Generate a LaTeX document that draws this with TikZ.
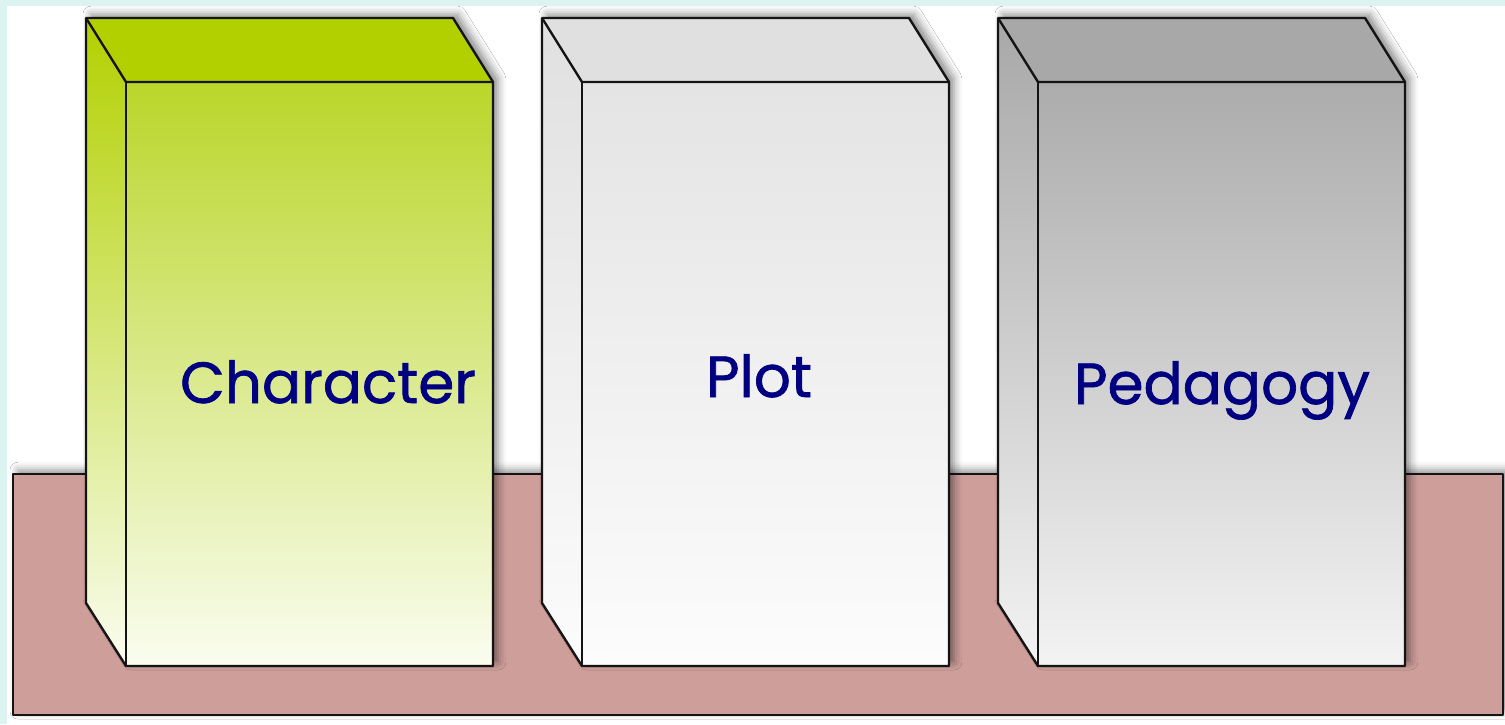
\documentclass[tikz,border=0pt]{standalone}
\usepackage{fontspec}
\setmainfont{Poppins}
\newfontfamily\labelfont[BoldFont=Poppins, BoldFeatures={FakeBold=1.2}]{Poppins}
\usetikzlibrary{shadows.blur}

\definecolor{framecyan}{RGB}{220,244,241}
\definecolor{shelfpink}{RGB}{206,158,154}
\definecolor{textnavy}{RGB}{0,0,128}
\definecolor{edgegray}{RGB}{20,20,20}
\definecolor{greentop}{RGB}{178,208,0}
\definecolor{greenfront}{RGB}{186,214,42}
\definecolor{greenlow}{RGB}{250,253,240}
\definecolor{silvertop}{RGB}{224,224,224}
\definecolor{silverfront}{RGB}{228,228,228}
\definecolor{silverlow}{RGB}{252,252,252}
\definecolor{darktop}{RGB}{168,168,168}
\definecolor{darkfront}{RGB}{172,172,172}
\definecolor{darklow}{RGB}{243,243,243}

\tikzset{
  blockedge/.style={draw=edgegray, line width=1.35pt, line join=round},
  dropshadow/.style={blur shadow={shadow xshift=2.8pt, shadow yshift=2.2pt,
      shadow blur radius=4.5pt, shadow opacity=45}},
  blocklabel/.style={font=\labelfont\bfseries\fontsize{33}{38}\selectfont,
      text=textnavy, anchor=base}
}

\begin{document}
\begin{tikzpicture}[x=0.02cm, y=-0.02cm]
  \useasboundingbox (0,0) rectangle (1505,724);
  \fill[framecyan] (0,0) rectangle (1505,724);
  \fill[white] (7,6) rectangle (1505,724);

  % shelf
  \fill[shelfpink, dropshadow] (13,474) rectangle (1503,715);
  \draw[blockedge] (13,474) rectangle (1503,715);

  % the three blocks
  \foreach \bx/\tc/\fc/\lc in {86/greentop/greenfront/greenlow,
                               542/silvertop/silverfront/silverlow,
                               998/darktop/darkfront/darklow}{
    \fill[white, dropshadow] (\bx,18) -- ++(367,0) -- ++(40,64) -- ++(0,584)
      -- ++(-367,0) -- ++(-40,-63) -- cycle;
    \fill[\tc] (\bx,18) -- ++(367,0) -- ++(40,64) -- ++(-367,0) -- cycle;
    \shade[top color=\tc, bottom color=\lc] (\bx,18) -- ++(40,64) -- ++(0,584)
      -- ++(-40,-63) -- cycle;
    \shade[top color=\fc, bottom color=\lc] (\bx+40,82) rectangle (\bx+407,666);
    \draw[blockedge] (\bx,18) -- ++(367,0) -- ++(40,64) -- ++(0,584)
      -- ++(-367,0) -- ++(-40,-63) -- cycle;
    \draw[blockedge] (\bx,18) -- ++(40,64) -- ++(367,0);
    \draw[blockedge] (\bx+40,82) -- (\bx+40,666);
  }

  \node[blocklabel] (character) at (328,403) {Character};
  \node[blocklabel] (plot) at (759,397) {Plot};
  \node[blocklabel] (pedagogy) at (1222,404) {Pedagogy};
\end{tikzpicture}
\end{document}
